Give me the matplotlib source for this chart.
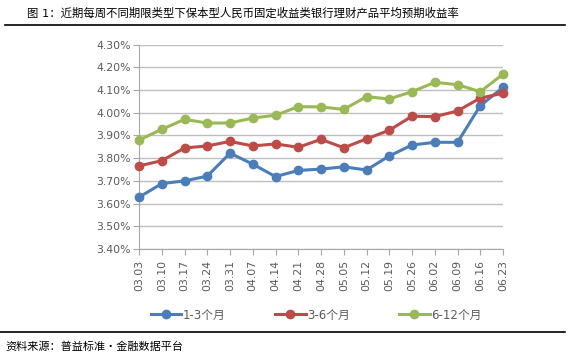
import matplotlib
matplotlib.use('Agg')
import matplotlib.pyplot as plt
from matplotlib.lines import Line2D

plt.rcParams['font.family'] = ['DejaVu Sans', 'Noto Sans CJK SC']

dates = ['03.03', '03.10', '03.17', '03.24', '03.31', '04.07', '04.14', '04.21', '04.28',
         '05.05', '05.12', '05.19', '05.26', '06.02', '06.09', '06.16', '06.23']
r_1_3 = [3.628, 3.688, 3.700, 3.721, 3.822, 3.774, 3.719, 3.746, 3.752,
         3.762, 3.748, 3.810, 3.858, 3.870, 3.870, 4.031, 4.112]
r_3_6 = [3.766, 3.789, 3.845, 3.854, 3.874, 3.854, 3.863, 3.848, 3.883,
         3.846, 3.885, 3.923, 3.985, 3.983, 4.008, 4.065, 4.086]
r_6_12 = [3.880, 3.927, 3.971, 3.955, 3.955, 3.977, 3.989, 4.027, 4.026,
          4.015, 4.071, 4.061, 4.093, 4.134, 4.124, 4.093, 4.170]
series_names = ['1-3个月', '3-6个月', '6-12个月']
yticks = [3.40, 3.50, 3.60, 3.70, 3.80, 3.90, 4.00, 4.10, 4.20, 4.30]

colors = ['#4A7EBB', '#BE4B48', '#98B954']
grey = '#595959'

fig = plt.figure(figsize=(5.70, 3.62), dpi=100)
ax = fig.add_axes([139/570, 1-249/362, (503-139)/570, (249-44.7)/362])

x = list(range(len(dates)))
for vals, c, name in zip([r_1_3, r_3_6, r_6_12], colors, series_names):
    ax.plot(x, vals, color=c, linewidth=2.2, marker='o', markersize=6,
            markeredgecolor=c, markerfacecolor=c, label=name, zorder=3, clip_on=False)

ax.set_xlim(0, len(dates)-1)
ax.set_ylim(3.40, 4.30)
ax.set_yticks(yticks)
ax.set_yticklabels(['%.2f%%' % v for v in yticks], fontsize=7.8, color=grey)
ax.set_xticks(x)
ax.set_xticklabels(dates, rotation=90, fontsize=7.8, color=grey)
ax.tick_params(axis='y', length=4, color='#A6A6A6', pad=2)
ax.tick_params(axis='x', length=4, color='#A6A6A6', direction='out', pad=4)
ax.grid(axis='y', color='#BFBFBF', linewidth=1.0)
ax.set_axisbelow(True)
for s in ['top', 'right']:
    ax.spines[s].set_visible(False)
for s in ['left', 'bottom']:
    ax.spines[s].set_color('#A6A6A6')

fig.legend(loc='center', bbox_to_anchor=(316/570, 1-315/362), ncol=3, frameon=False,
           fontsize=8.5, handlelength=2.6, columnspacing=4.2, handletextpad=0.1,
           labelcolor=grey)

fig.text(27/570, 1-13/362, '图 1：近期每周不同期限类型下保本型人民币固定收益类银行理财产品平均预期收益率',
         fontsize=8.2, va='center', ha='left', color='black')
fig.add_artist(Line2D([5/570, 565/570], [1-25/362, 1-25/362], color='black', linewidth=1.2))
fig.add_artist(Line2D([0/570, 565/570], [1-332/362, 1-332/362], color='black', linewidth=1.2))
fig.text(5/570, 1-347/362, '资料来源：普益标准・金融数据平台', fontsize=8, va='center', ha='left',
         color='black')

fig.savefig('out.png', dpi=100)
